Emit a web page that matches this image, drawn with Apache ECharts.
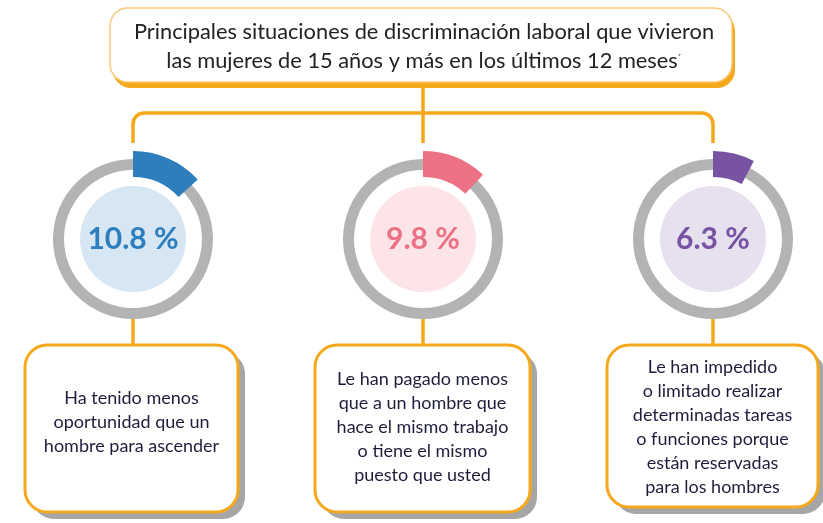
<!DOCTYPE html>
<html>
<head>
<meta charset="utf-8">
<script src="https://cdn.jsdelivr.net/npm/echarts@6/dist/echarts.min.js"></script>
<style>
  html, body { margin: 0; padding: 0; background: #fff; }
  #main { width: 823px; height: 523px; }
</style>
</head>
<body>
<div id="main"></div>
<script>
// datos
const titleLines = ['Principales situaciones de discriminación laboral que vivieron', 'las mujeres de 15 años y más en los últimos 12 meses']
const values = [10.8, 9.8, 6.3]
const valueLabels = ['10.8 %', '9.8 %', '6.3 %']
const descriptions = [
  ['Ha tenido menos', 'oportunidad que un', 'hombre para ascender'],
  ['Le han pagado menos', 'que a un hombre que', 'hace el mismo trabajo', 'o tiene el mismo', 'puesto que usted'],
  ['Le han impedido', 'o limitado realizar', 'determinadas tareas', 'o funciones porque', 'están reservadas', 'para los hombres']
]

// estilos
const strongColors = ['#2E7EBE', '#EC7184', '#7753A1']
const lightColors = ['#D7E6F3', '#FCE4E8', '#E6E0EF']
const orange = '#F6A81C'
const font = 'Lato, "Open Sans", sans-serif'
const arcFull = 82 // escala del arco
const centersX = [133, 423, 713]
const centerY = 239
// x, y, ancho, alto, desplazamiento del texto
const boxes = [[25, 345, 213, 167, -6], [315, 345, 215, 167, -1], [607, 345, 211, 162, 1]]

let myChart = echarts.init(document.getElementById('main'))

let series = []
values.forEach((v, i) => {
  let center = [centersX[i], centerY]
  // aro gris
  series.push({
    type: 'pie',
    silent: true,
    center: center,
    radius: [69, 80],
    label: { show: false },
    itemStyle: { color: '#B3B3B3' },
    data: [1]
  })
  // circulo interior con el porcentaje
  series.push({
    type: 'pie',
    silent: true,
    center: center,
    radius: [0, 53],
    label: {
      show: true,
      position: 'center',
      formatter: valueLabels[i],
      color: strongColors[i],
      fontSize: 30,
      fontWeight: 'bold',
      fontFamily: font
    },
    labelLine: { show: false },
    itemStyle: { color: lightColors[i] },
    data: [1]
  })
  // arco del valor
  series.push({
    type: 'pie',
    silent: true,
    center: center,
    radius: [62, 88],
    startAngle: 90,
    clockwise: true,
    label: { show: false },
    labelLine: { show: false },
    data: [
      { value: v, itemStyle: { color: strongColors[i] } },
      { value: arcFull - v, itemStyle: { color: 'rgba(0,0,0,0)' } }
    ]
  })
})

let graphic = []
const lineStyle = { stroke: orange, lineWidth: 3.5, fill: null }
// conectores
graphic.push({ type: 'line', z: 1, silent: true, shape: { x1: 133, y1: 124, x2: 133, y2: 143 }, style: lineStyle })
graphic.push({ type: 'line', z: 1, silent: true, shape: { x1: 713, y1: 124, x2: 713, y2: 143 }, style: lineStyle })
graphic.push({ type: 'line', z: 1, silent: true, shape: { x1: 144, y1: 113, x2: 702, y2: 113 }, style: lineStyle })
graphic.push({ type: 'arc', z: 1, silent: true, shape: { cx: 144, cy: 124, r: 11, startAngle: Math.PI, endAngle: Math.PI * 1.5, clockwise: true }, style: lineStyle })
graphic.push({ type: 'arc', z: 1, silent: true, shape: { cx: 702, cy: 124, r: 11, startAngle: Math.PI * 1.5, endAngle: Math.PI * 2, clockwise: true }, style: lineStyle })
graphic.push({ type: 'line', z: 1, silent: true, shape: { x1: 423, y1: 84, x2: 423, y2: 143 }, style: lineStyle })
centersX.forEach(x => {
  graphic.push({ type: 'line', z: 1, silent: true, shape: { x1: x, y1: 318, x2: x, y2: 346 }, style: lineStyle })
})

// caja del titulo
graphic.push({
  type: 'rect', z: 2, silent: true,
  shape: { x: 113, y: 13, width: 622, height: 75, r: 18 },
  style: { fill: orange }
})
graphic.push({
  type: 'rect', z: 3, silent: true,
  shape: { x: 110, y: 8, width: 622, height: 74, r: 18 },
  style: { fill: '#fff', stroke: '#F9C979', lineWidth: 1.5 }
})
graphic.push({
  type: 'text', z: 4, silent: true,
  x: 424, y: 46,
  style: {
    text: titleLines[0] + '\n' + titleLines[1] + '{s|´}',
    rich: { s: { fontSize: 12, fill: '#333' } },
    align: 'center', verticalAlign: 'middle',
    fill: '#222', fontSize: 21.8, fontFamily: font, lineHeight: 29
  }
})

// cajas de descripcion
boxes.forEach((b, i) => {
  graphic.push({
    type: 'rect', z: 2, silent: true,
    shape: { x: b[0] + 7, y: b[1] + 7, width: b[2], height: b[3], r: 22 },
    style: { fill: '#A6A6A6' }
  })
  graphic.push({
    type: 'rect', z: 3, silent: true,
    shape: { x: b[0], y: b[1], width: b[2], height: b[3], r: 22 },
    style: { fill: '#fff', stroke: orange, lineWidth: 3 }
  })
  graphic.push({
    type: 'text', z: 4, silent: true,
    x: b[0] + b[2] / 2, y: b[1] + b[3] / 2 + b[4],
    style: {
      text: descriptions[i].join('\n'),
      align: 'center', verticalAlign: 'middle',
      fill: '#1E1E3C', fontSize: 18, fontFamily: font, lineHeight: 24
    }
  })
})

let Option = {
  backgroundColor: '#fff',
  animation: false,
  series: series,
  graphic: graphic
}
myChart.setOption(Option)
</script>
</body>
</html>
